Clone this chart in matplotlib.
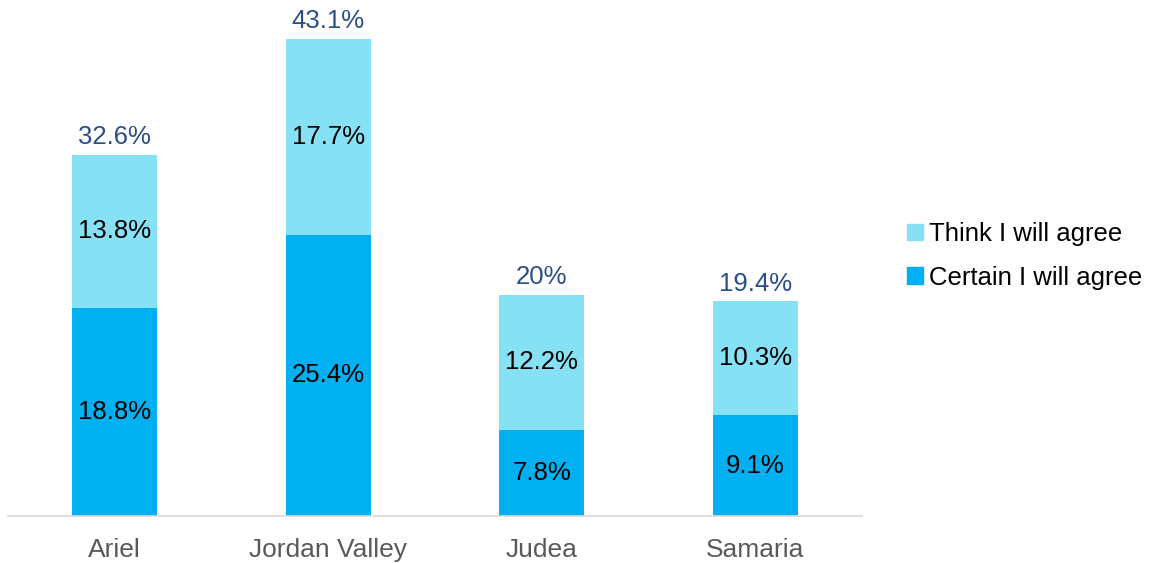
import matplotlib
matplotlib.use("Agg")
import matplotlib.pyplot as plt
from matplotlib.patches import Patch

plt.rcParams['font.family'] = ['Liberation Sans', 'DejaVu Sans']

regions = ["Ariel", "Jordan Valley", "Judea", "Samaria"]
certain = [18.8, 25.4, 7.8, 9.1]
think = [13.8, 17.7, 12.2, 10.3]
totals = ["32.6%", "43.1%", "20%", "19.4%"]

c_dark = "#00B0F0"
c_light = "#87E1F4"

fig = plt.figure(figsize=(11.53, 5.63), dpi=100)
ax = fig.add_axes([8/1153, 47/563, 854/1153, 516/563])

x = range(len(regions))
b1 = ax.bar(x, certain, width=0.4, color=c_dark)
b2 = ax.bar(x, think, width=0.4, bottom=certain, color=c_light)

for i in x:
    ax.text(i, certain[i]/2, "%.1f%%" % certain[i], ha='center', va='center', fontsize=18.5, color='black')
    ax.text(i, certain[i] + think[i]/2, "%.1f%%" % think[i], ha='center', va='center', fontsize=18.5, color='black')
    ax.text(i, certain[i] + think[i] + 0.5, totals[i], ha='center', va='bottom', fontsize=18.5, color='#2A4F86')

ax.set_xlim(-0.5, 3.5)
ax.set_ylim(0, 46.6)
ax.set_xticks(list(x))
ax.set_xticklabels(regions, fontsize=19, color='#595959')
ax.tick_params(axis='x', length=0, pad=16)
ax.set_yticks([])
for s in ['top', 'right', 'left']:
    ax.spines[s].set_visible(False)
ax.spines['bottom'].set_color('#D9D9D9')
ax.spines['bottom'].set_linewidth(1.2)

handles = [Patch(color=c_light, label="Think I will agree"),
           Patch(color=c_dark, label="Certain I will agree")]
fig.legend(handles=handles, loc='center left', bbox_to_anchor=(884/1153, 1 - 256/563),
           frameon=False, fontsize=18.5, handlelength=0.6, handleheight=0.6,
           handletextpad=0.25, labelspacing=0.75)

fig.savefig("out.png", dpi=100)
